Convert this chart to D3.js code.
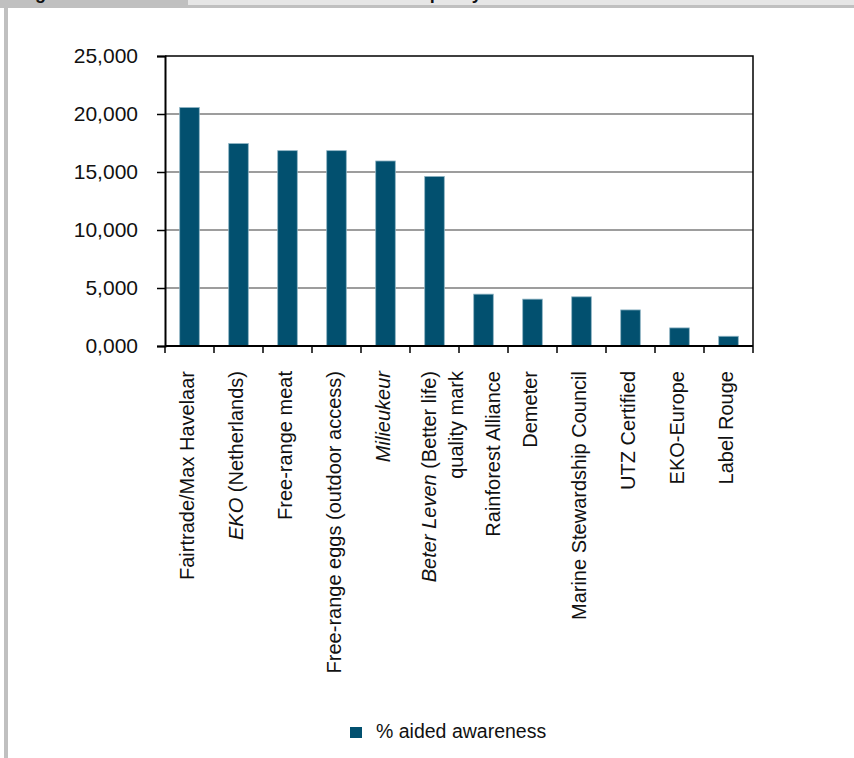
<!doctype html>
<html lang="en">
<head>
    <meta charset="UTF-8">
    <title>Aided awareness of quality marks</title>
    <script src="https://cdn.jsdelivr.net/npm/d3@7"></script>
    <style>
        body { margin: 0; background: #fff; }
        text { font-family: "Liberation Sans", Arial, sans-serif; fill: #111; }
    </style>
</head>
<body>
    <svg width="854" height="758"></svg>
    <script>
        // data
        const categories = [
            "Fairtrade/Max Havelaar", "EKO (Netherlands)", "Free-range meat",
            "Free-range eggs (outdoor access)", "Milieukeur", "Beter Leven (Better life)|quality mark",
            "Rainforest Alliance", "Demeter", "Marine Stewardship Council",
            "UTZ Certified", "EKO-Europe", "Label Rouge"
        ];
        const italicParts = ["", "EKO", "", "", "Milieukeur", "Beter Leven", "", "", "", "", "", ""];
        const awareness = [20560, 17450, 16840, 16840, 15950, 14620, 4470, 4040, 4240, 3110, 1560, 840];
        const yTicks = [0, 5000, 10000, 15000, 20000, 25000];
        const seriesName = "% aided awareness";

        const barColor = "#02506f";
        const svg = d3.select("svg");

        // page frame bits (cropped header above the chart)
        svg.append("rect").attr("x", 0).attr("y", 0).attr("width", 188).attr("height", 8).attr("fill", "#c0c0c0");
        svg.append("rect").attr("x", 188).attr("y", 0).attr("width", 666).attr("height", 5).attr("fill", "#e6e6e6");
        svg.append("rect").attr("x", 188).attr("y", 5).attr("width", 666).attr("height", 3).attr("fill", "#c0c0c0");
        svg.append("rect").attr("x", 4).attr("y", 8).attr("width", 4).attr("height", 750).attr("fill", "#c0c0c0");
        svg.append("text").attr("x", 19).attr("y", -1).style("font-weight", "bold").style("font-size", "18px").text("Figure");
        svg.append("text").attr("x", 302).attr("y", -1).style("font-weight", "bold").style("font-size", "18px").text("Awareness of quality marks");

        const pLeft = 165, pRight = 753, pTop = 56, pBottom = 346;

        const x = d3.scaleBand().domain(categories).range([pLeft, pRight]).paddingInner(0.6).paddingOuter(0.3);
        const y = d3.scaleLinear().domain([0, 25000]).range([pBottom, pTop]);

        // gridlines
        svg.append("g").selectAll("line").data(yTicks.filter(d => d > 0 && d < 25000)).enter()
            .append("line")
            .attr("x1", pLeft).attr("x2", pRight)
            .attr("y1", d => y(d)).attr("y2", d => y(d))
            .attr("stroke", "#7c7c7c").attr("stroke-width", 1.5);

        // bars
        svg.append("g").selectAll("rect").data(awareness).enter()
            .append("rect")
            .attr("x", (d, i) => x(categories[i]))
            .attr("y", d => y(d))
            .attr("width", x.bandwidth())
            .attr("height", d => pBottom - y(d))
            .attr("fill", barColor)
            .attr("stroke", "#8fb4c4").attr("stroke-width", 0.8);

        // plot border (top and right)
        svg.append("path")
            .attr("d", `M${pLeft},${pTop}H${pRight}V${pBottom}`)
            .attr("fill", "none").attr("stroke", "#000").attr("stroke-width", 1.5);

        // y axis
        const yAxis = svg.append("g").attr("transform", `translate(${pLeft},0)`)
            .call(d3.axisLeft(y).tickValues(yTicks).tickSize(8).tickPadding(19)
                .tickFormat(d => (d / 1000).toFixed(3).replace(".", ",")));
        yAxis.selectAll("text").style("font-size", "21px").attr("fill", "#111");
        yAxis.selectAll("line").attr("stroke", "#000").attr("stroke-width", 1.5);
        yAxis.select(".domain").attr("stroke", "#000").attr("stroke-width", 2);

        // x axis with ticks on band edges
        const xAxis = svg.append("g").attr("transform", `translate(0,${pBottom})`);
        xAxis.append("line").attr("x1", pLeft).attr("x2", pRight).attr("stroke", "#000").attr("stroke-width", 2);
        const edges = categories.map(c => x(c) - x.step() * x.paddingInner() / 2).concat([pRight]);
        xAxis.selectAll(".tk").data(edges).enter().append("line")
            .attr("x1", d => d).attr("x2", d => d).attr("y1", 0).attr("y2", 7)
            .attr("stroke", "#000").attr("stroke-width", 1.5);

        // category labels, rotated; a couple nudged sideways like in the original layout
        const nudge = { 5: -3, 6: 12.5 };
        categories.forEach((c, i) => {
            const cx = x(c) + x.bandwidth() / 2;
            const g = svg.append("g")
                .attr("transform", `translate(${cx + (nudge[i] || 0)},371) rotate(-90)`);
            c.split("|").forEach((line, j) => {
                const t = g.append("text")
                    .attr("text-anchor", "end")
                    .attr("x", 0).attr("y", 4 + j * 27)
                    .style("font-size", "20px");
                const it = j === 0 ? italicParts[i] : "";
                if (it && line.startsWith(it)) {
                    t.append("tspan").style("font-style", "italic").text(it);
                    if (line.length > it.length) t.append("tspan").text(line.slice(it.length));
                } else {
                    t.text(line);
                }
            });
        });

        // legend
        const legend = svg.append("g").attr("transform", "translate(350,727)");
        legend.append("rect").attr("width", 12).attr("height", 11).attr("fill", barColor);
        legend.append("text").attr("x", 26).attr("y", 11).style("font-size", "19.5px").text(seriesName);
    </script>
</body>
</html>
